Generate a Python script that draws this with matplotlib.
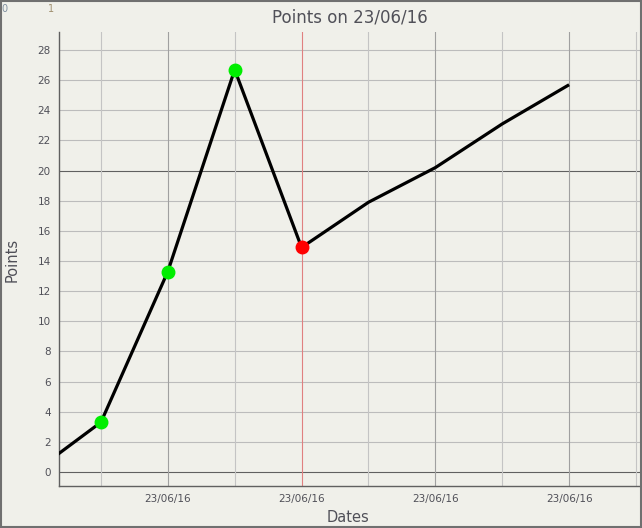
import matplotlib
matplotlib.use("Agg")
import matplotlib.pyplot as plt
from matplotlib.patches import Rectangle

# data
x_idx = [-1, 0, 1, 2, 3, 4, 5, 6, 7]
points = [0.0, 3.3, 13.3, 26.7, 14.9, 17.9, 20.2, 23.1, 25.7]
green_idx = [0, 1, 2]
red_idx = [3]
date_ticks = [1, 3, 5, 7]
date_labels = ["23/06/16", "23/06/16", "23/06/16", "23/06/16"]
y_ticks = list(range(0, 29, 2))

bg = "#f0f0ea"
text_col = "#505058"

fig = plt.figure(figsize=(6.42, 5.28), dpi=100, facecolor=bg)
ax = fig.add_axes([59 / 642, 1 - 486 / 528, 581 / 642, 454 / 528], facecolor=bg)

ax.set_xlim(-0.627, 8.06)
ax.set_ylim(-0.93, 29.2)

# grid
for y in y_ticks:
    dark = y in (0, 20)
    ax.axhline(y, color="#606060" if dark else "#bcbcbc", lw=0.8, zorder=1)
for xv in range(0, 9):
    if xv == 3:
        col = "#e08080"
    elif xv in date_ticks:
        col = "#a0a0a0"
    else:
        col = "#c4c4c4"
    ax.axvline(xv, color=col, lw=0.8, zorder=1)

ax.plot(x_idx, points, color="black", lw=2.3, zorder=3, solid_capstyle="butt")
ax.plot([x_idx[i + 1] for i in green_idx], [points[i + 1] for i in green_idx],
        "o", color="#00ee00", ms=9, zorder=4)
ax.plot([x_idx[i + 1] for i in red_idx], [points[i + 1] for i in red_idx],
        "o", color="#ff0000", ms=9, zorder=4)

ax.set_yticks(y_ticks)
ax.set_yticklabels([str(v) for v in y_ticks])
ax.set_xticks(date_ticks)
ax.set_xticklabels(date_labels)
ax.tick_params(length=0, labelsize=7.5, labelcolor=text_col, pad=6)

for s in ["top", "right"]:
    ax.spines[s].set_visible(False)
for s in ["left", "bottom"]:
    ax.spines[s].set_color("#606060")
    ax.spines[s].set_linewidth(1.0)

fig.text(350 / 642, 1 - 18 / 528, "Points on 23/06/16", ha="center", va="center",
         fontsize=12, color=text_col)
fig.text(12 / 642, 1 - 260 / 528, "Points", rotation=90, ha="center", va="center",
         fontsize=10.5, color=text_col)
fig.text(348 / 642, 1 - 518 / 528, "Dates", ha="center", va="center",
         fontsize=10.5, color=text_col)
fig.text(4 / 642, 1 - 9 / 528, "0", ha="center", va="center", fontsize=7, color="#8090a0")
fig.text(51 / 642, 1 - 9 / 528, "1", ha="center", va="center", fontsize=7, color="#a09070")

fig.patches.append(Rectangle((0.001, 0.001), 0.997, 0.997, transform=fig.transFigure,
                             fill=False, edgecolor="#707070", lw=1.5))

fig.savefig("out.png", dpi=100, facecolor=bg)
